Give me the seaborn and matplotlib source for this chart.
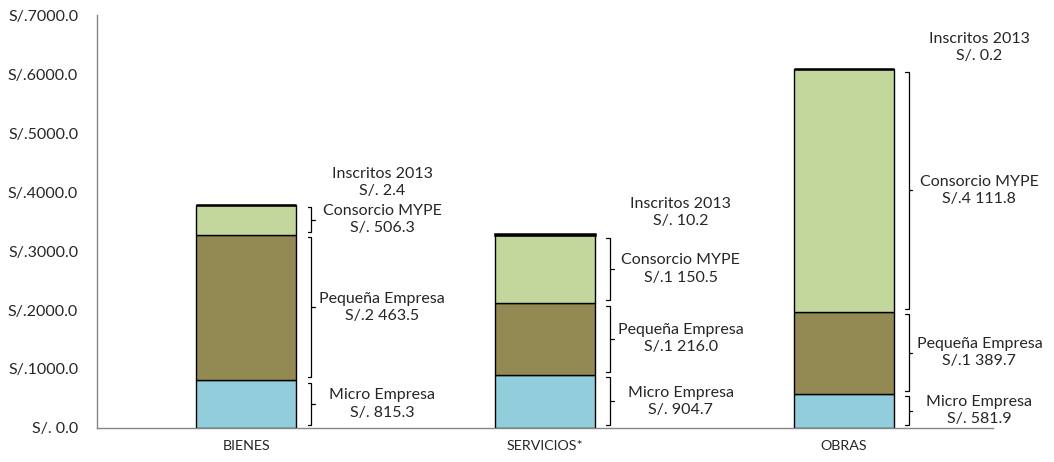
import numpy as np
import pandas as pd
import seaborn as sns
import matplotlib.pyplot as plt
from matplotlib.ticker import FuncFormatter, FixedLocator

sns.set_style("white")
plt.rcParams["font.family"] = ["Lato", "DejaVu Sans"]

categories = ["BIENES", "SERVICIOS*", "OBRAS"]
segments = ["Micro Empresa", "Pequeña Empresa", "Consorcio MYPE", "Inscritos 2013"]
micro = [815.3, 904.7, 581.9]
pequena = [2463.5, 1216.0, 1389.7]
consorcio = [506.3, 1150.5, 4111.8]
inscritos = [2.4, 10.2, 0.2]

colors = ["#92cddc", "#938953", "#c3d69b", "#000000"]
spine_color = "#868686"


def soles(v):
    # excel style: S/.2 463.5 and S/. 815.3
    s = f"{v:.1f}"
    if v >= 1000:
        ip, dp = s.split(".")
        return f"S/.{ip[:-3]} {ip[-3:]}.{dp}"
    return f"S/. {s}"


def tick_fmt(v, pos):
    if v == 0:
        return "S/. 0.0"
    return f"S/.{v:.1f}"


df = pd.DataFrame(
    {"cat": categories, "Micro Empresa": micro, "Pequeña Empresa": pequena,
     "Consorcio MYPE": consorcio, "Inscritos 2013": inscritos}
)

fig, ax = plt.subplots(figsize=(10.54, 4.62), dpi=100)
fig.subplots_adjust(left=0.092, right=0.942, bottom=0.0736, top=0.9675)

bottom = np.zeros(len(categories))
for seg, col in zip(segments, colors):
    lw = 1.8 if seg == "Inscritos 2013" else 1.0
    sns.barplot(data=df, x="cat", y=seg, bottom=bottom, color=col, width=0.335,
                edgecolor="black", linewidth=lw, saturation=1, ax=ax)
    bottom = bottom + df[seg].values

# braces + labels
for i in range(len(categories)):
    base = 0.0
    for seg in segments:
        v = df[seg].iloc[i]
        lo, hi = base, base + v
        if seg != "Inscritos 2013":
            xv = i + 0.218
            xh = xv - 0.012
            xt = xv + 0.012
            pad = 45
            mid = (lo + hi) / 2
            ax.plot([xh, xv, xv, xh], [hi - pad, hi - pad, lo + pad, lo + pad],
                    color="black", lw=0.9, solid_joinstyle="miter")
            ax.plot([xv, xt], [mid, mid], color="black", lw=0.9)
            ty = mid
        else:
            ty = hi + 370
        ax.text(i + 0.455, ty, f"{seg}\n{soles(v)}", ha="center", va="center",
                fontsize=11.5, linespacing=1.3)
        base = hi

ax.set_xlim(-0.5, 2.5)
ax.set_ylim(0, 7000)
ax.yaxis.set_major_locator(FixedLocator(np.arange(0, 7001, 1000)))
ax.yaxis.set_major_formatter(FuncFormatter(tick_fmt))
ax.xaxis.set_minor_locator(FixedLocator([-0.5, 0.5, 1.5, 2.5]))
ax.tick_params(axis="x", which="major", length=0, labelsize=10.3, pad=9)
ax.tick_params(axis="x", which="minor", length=4, color=spine_color, direction="out")
ax.tick_params(axis="y", length=4, color=spine_color, direction="out", labelsize=11.5, pad=9.5)
ax.set_xlabel("")
ax.set_ylabel("")
for s in ["top", "right"]:
    ax.spines[s].set_visible(False)
for s in ["left", "bottom"]:
    ax.spines[s].set_color(spine_color)
    ax.spines[s].set_linewidth(1.0)

fig.savefig("out.png", dpi=100)
